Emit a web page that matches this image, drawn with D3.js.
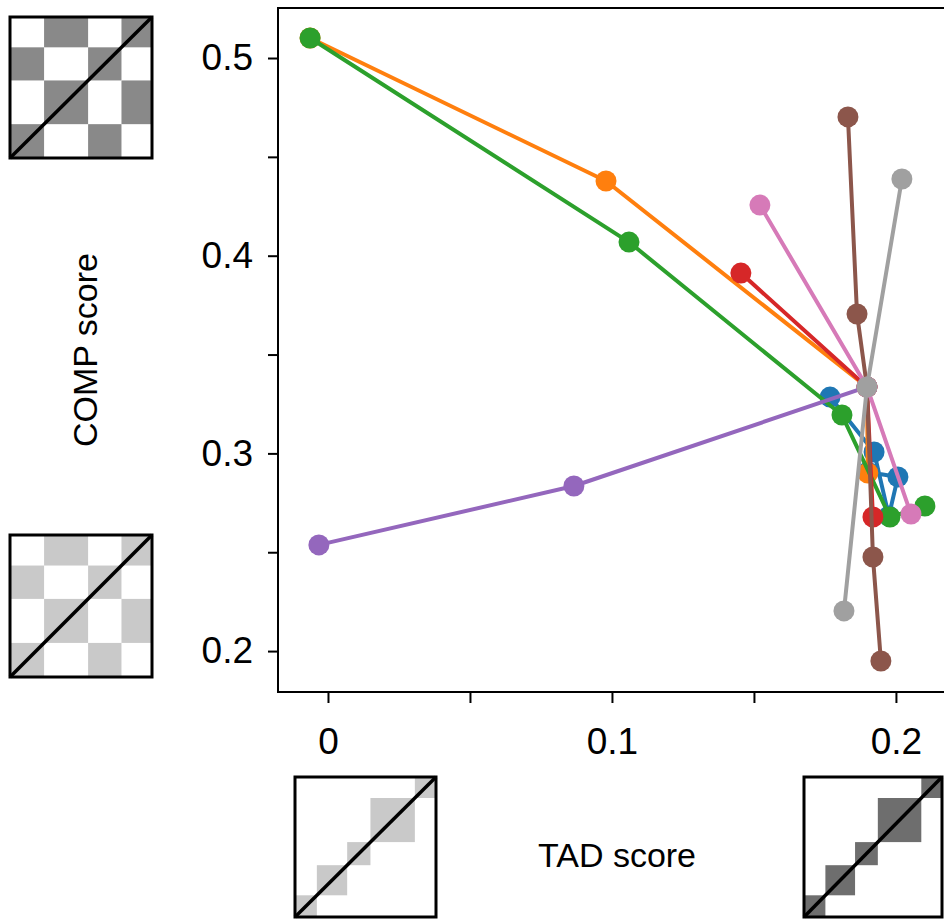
<!DOCTYPE html>
<html>
<head>
<meta charset="utf-8">
<script src="https://cdn.jsdelivr.net/npm/d3@7/dist/d3.min.js"></script>
<style>
  html, body { margin: 0; padding: 0; background: #fff; }
  svg { display: block; font-family: "Liberation Sans", Arial, sans-serif; }
</style>
</head>
<body>
<svg id="chart" width="944" height="920"></svg>
<script>
// Shared parameter point that most trajectories pass through
const hubTad = 0.1898, hubComp = 0.3336;

// TAD score (x) and COMP score (y) for each trajectory
const tadBlue   = [0.1768, 0.1923, 0.1975, 0.2007, 0.1901];
const compBlue  = [0.3285, 0.3007, 0.2683, 0.2881, 0.2906];
const tadOrange  = [-0.0063, 0.0979, hubTad, 0.1901];
const compOrange = [0.5101, 0.4378, hubComp, 0.2901];
const tadGreen  = [-0.0063, 0.1060, 0.1810, 0.1979, 0.2102];
const compGreen = [0.5101, 0.4069, 0.3194, 0.2678, 0.2734];
const tadRed  = [0.1454, hubTad, 0.1919];
const compRed = [0.3912, hubComp, 0.2678];
const tadPurple  = [-0.0032, 0.0866, hubTad];
const compPurple = [0.2537, 0.2835, hubComp];
const tadBrown  = [0.1831, 0.1863, hubTad, 0.1919, 0.1947];
const compBrown = [0.4702, 0.3705, hubComp, 0.2476, 0.1950];
const tadPink  = [0.1521, hubTad, 0.2053];
const compPink = [0.4256, hubComp, 0.2693];
const tadGray  = [0.2021, hubTad, 0.1817];
const compGray = [0.4388, hubComp, 0.2203];

const seriesColors = ["#1f77b4", "#ff7f0e", "#2ca02c", "#d62728", "#9467bd", "#8c564b", "#d67ab8", "#a0a0a0"];

// Axis ticks
const xMajorTicks = [0, 0.1, 0.2];
const xMinorTicks = [0.05, 0.15];
const yMajorTicks = [0.2, 0.3, 0.4, 0.5];
const yMinorTicks = [0.25, 0.35, 0.45];
const xTickLabels = ["0", "0.1", "0.2"];
const yTickLabels = ["0.2", "0.3", "0.4", "0.5"];

// Schematic contact-map icons: bin edges (fractions of the box)
const checkerEdges = [0, 0.24, 0.55, 0.785, 1];
const tadEdges = [0, 0.155, 0.37, 0.535, 0.85, 1];

const trajectories = [
  { tad: tadBlue, comp: compBlue },
  { tad: tadOrange, comp: compOrange },
  { tad: tadGreen, comp: compGreen },
  { tad: tadRed, comp: compRed },
  { tad: tadPurple, comp: compPurple },
  { tad: tadBrown, comp: compBrown },
  { tad: tadPink, comp: compPink },
  { tad: tadGray, comp: compGray }
].map((s, i) => ({ color: seriesColors[i], points: s.tad.map((t, k) => ({ t, c: s.comp[k] })) }));

const svg = d3.select("#chart");

const plot = { left: 278, top: 8, right: 955, bottom: 692 };
const x = d3.scaleLinear().domain([-0.0176, 0.2208]).range([plot.left, plot.right]);
const y = d3.scaleLinear().domain([0.1793, 0.5253]).range([plot.bottom, plot.top]);

// Frame: left, top and bottom spines
svg.append("path")
  .attr("d", `M${plot.right},${plot.top}H${plot.left}V${plot.bottom}H${plot.right}`)
  .attr("fill", "none").attr("stroke", "#000").attr("stroke-width", 2);

// X axis
const xAxis = svg.append("g").attr("transform", `translate(0,${plot.bottom})`)
  .call(d3.axisBottom(x).tickValues(xMajorTicks.concat(xMinorTicks)).tickSize(11).tickSizeOuter(0)
    .tickFormat(d => { const i = xMajorTicks.indexOf(d); return i >= 0 ? xTickLabels[i] : ""; }));
xAxis.select(".domain").remove();
xAxis.selectAll(".tick line").attr("stroke", "#000").attr("stroke-width", 2);
xAxis.selectAll(".tick text").attr("font-size", 37).attr("fill", "#000")
  .attr("font-family", "Liberation Sans, Arial, sans-serif").attr("y", 36);

// Y axis
const yAxis = svg.append("g").attr("transform", `translate(${plot.left},0)`)
  .call(d3.axisLeft(y).tickValues(yMajorTicks.concat(yMinorTicks)).tickSize(10).tickSizeOuter(0)
    .tickFormat(d => { const i = yMajorTicks.indexOf(d); return i >= 0 ? yTickLabels[i] : ""; }));
yAxis.select(".domain").remove();
yAxis.selectAll(".tick line").attr("stroke", "#000").attr("stroke-width", 2);
yAxis.selectAll(".tick text").attr("font-size", 37).attr("fill", "#000")
  .attr("font-family", "Liberation Sans, Arial, sans-serif").attr("x", -25);

// Axis titles
svg.append("text").attr("x", 617).attr("y", 867).attr("text-anchor", "middle")
  .attr("font-size", 34).attr("fill", "#000").text("TAD score");
svg.append("text").attr("transform", "translate(97,350) rotate(-90)").attr("text-anchor", "middle")
  .attr("font-size", 34).attr("fill", "#000").text("COMP score");

// Trajectories: each line drawn with its markers before the next series
const line = d3.line().x(d => x(d.t)).y(d => y(d.c));
const marks = svg.append("g");
trajectories.forEach(s => {
  const g = marks.append("g");
  g.append("path").attr("d", line(s.points)).attr("fill", "none")
    .attr("stroke", s.color).attr("stroke-width", 4).attr("stroke-linejoin", "round");
  g.selectAll("circle").data(s.points).join("circle")
    .attr("cx", d => x(d.t)).attr("cy", d => y(d.c)).attr("r", 10.5).attr("fill", s.color);
});

// Contact-map icons
function checkerIcon(x0, y0, w, h, fill) {
  const ix = d3.scaleLinear().domain([0, 1]).range([x0, x0 + w]);
  const iy = d3.scaleLinear().domain([0, 1]).range([y0 + h, y0]);
  const g = svg.append("g");
  const cells = [];
  for (let i = 0; i < checkerEdges.length - 1; i++)
    for (let j = 0; j < checkerEdges.length - 1; j++)
      if ((i + j) % 2 === 0) cells.push({ i, j });
  g.selectAll("rect").data(cells).join("rect")
    .attr("x", d => ix(checkerEdges[d.i])).attr("width", d => ix(checkerEdges[d.i + 1]) - ix(checkerEdges[d.i]))
    .attr("y", d => iy(checkerEdges[d.j + 1])).attr("height", d => iy(checkerEdges[d.j]) - iy(checkerEdges[d.j + 1]))
    .attr("fill", fill);
  frameIcon(g, ix, iy);
}
function tadIcon(x0, y0, w, h, fill) {
  const ix = d3.scaleLinear().domain([0, 1]).range([x0, x0 + w]);
  const iy = d3.scaleLinear().domain([0, 1]).range([y0 + h, y0]);
  const g = svg.append("g");
  g.selectAll("rect").data(d3.range(tadEdges.length - 1)).join("rect")
    .attr("x", k => ix(tadEdges[k])).attr("width", k => ix(tadEdges[k + 1]) - ix(tadEdges[k]))
    .attr("y", k => iy(tadEdges[k + 1])).attr("height", k => iy(tadEdges[k]) - iy(tadEdges[k + 1]))
    .attr("fill", fill);
  frameIcon(g, ix, iy);
}
function frameIcon(g, ix, iy) {
  g.append("rect").attr("x", ix(0)).attr("y", iy(1)).attr("width", ix(1) - ix(0)).attr("height", iy(0) - iy(1))
    .attr("fill", "none").attr("stroke", "#000").attr("stroke-width", 3);
  g.append("line").attr("x1", ix(0)).attr("y1", iy(0)).attr("x2", ix(1)).attr("y2", iy(1))
    .attr("stroke", "#000").attr("stroke-width", 3.5);
}

checkerIcon(10, 17, 142, 141, "#898989");
checkerIcon(10, 535, 142, 142, "#c9c9c9");
tadIcon(295, 777, 141, 140, "#c9c9c9");
tadIcon(804, 777, 138, 140, "#6e6e6e");
</script>
</body>
</html>
